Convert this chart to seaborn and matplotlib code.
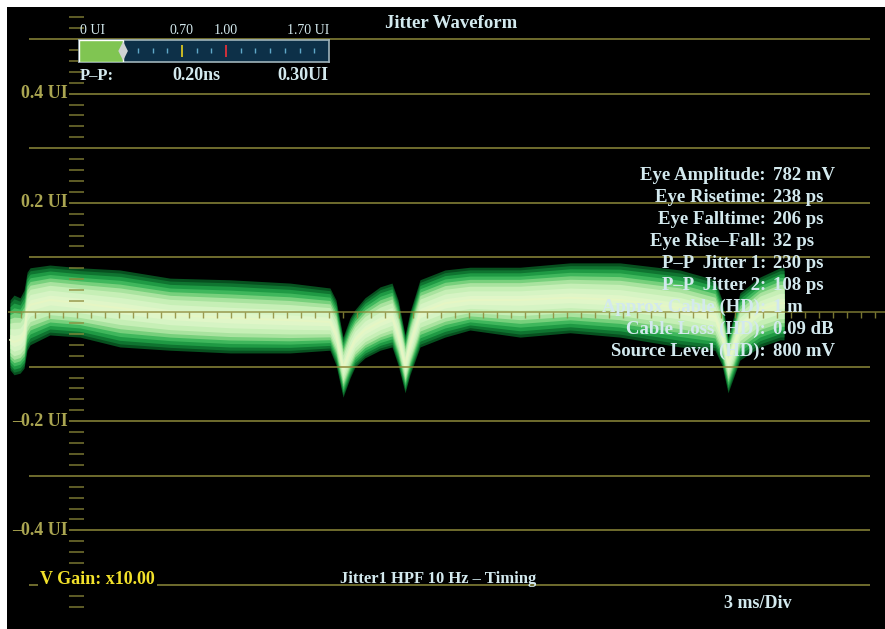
import numpy as np
import pandas as pd
import matplotlib
matplotlib.use("Agg")
import matplotlib.pyplot as plt
import seaborn as sns

# ---------------- data ----------------
time_ms = [0.13, 0.30, 0.56, 0.73, 0.86, 0.99, 1.84, 3.13, 4.84, 6.99, 9.56, 12.13,
           13.84, 14.10, 14.40, 14.70, 14.91, 15.34, 15.99, 16.50, 16.76, 17.06,
           17.27, 17.70, 18.77, 19.84, 21.99, 24.13, 26.27, 28.84, 30.34, 30.64,
           30.90, 31.41, 32.27, 33.13, 33.30]
wave_top = [0.022, 0.031, 0.026, 0.040, 0.073, 0.081, 0.086, 0.081, 0.077, 0.062, 0.059, 0.053,
            0.044, 0.022, -0.046, -0.011, 0.004, 0.026, 0.046, 0.053, 0.022, -0.042,
            0.000, 0.059, 0.077, 0.082, 0.082, 0.090, 0.090, 0.077, 0.059, 0.022,
            -0.046, 0.035, 0.064, 0.081, 0.081]
wave_core = [-0.051, -0.055, -0.051, -0.042, 0.004, 0.013, 0.022, 0.016, 0.007, -0.005, -0.011, -0.015,
             -0.018, -0.042, -0.103, -0.070, -0.051, -0.033, -0.018, -0.009, -0.042, -0.097,
             -0.060, -0.002, 0.016, 0.022, 0.022, 0.026, 0.022, 0.007, -0.009, -0.042,
             -0.093, -0.027, 0.004, 0.016, 0.016]
wave_bottom = [-0.106, -0.115, -0.112, -0.103, -0.070, -0.060, -0.042, -0.046, -0.064, -0.070, -0.075, -0.075,
               -0.070, -0.097, -0.156, -0.121, -0.101, -0.084, -0.070, -0.064, -0.097, -0.148,
               -0.115, -0.064, -0.046, -0.033, -0.046, -0.038, -0.046, -0.064, -0.070, -0.097,
               -0.148, -0.088, -0.064, -0.051, -0.051]

grid_ui = [0.5, 0.4, 0.3, 0.2, 0.1, -0.1, -0.2, -0.3, -0.4, -0.5]
label_ui = [0.4, 0.2, -0.2, -0.4]
label_text = ["0.4 UI", "0.2 UI", "\u20130.2 UI", "\u20130.4 UI"]

meas_labels = ["Eye Amplitude:", "Eye Risetime:", "Eye Falltime:", "Eye Rise\u2013Fall:",
               "P\u2013P  Jitter 1:", "P\u2013P  Jitter 2:", "Approx Cable (HD):",
               "Cable Loss (HD):", "Source Level (HD):"]
meas_values = ["782 mV", "238 ps", "206 ps", "32 ps", "230 ps", "108 ps", "1 m",
               "0.09 dB", "800 mV"]

meter_value_ui = 0.30
meter_max_ui = 1.70
meter_ticks = [0.1, 0.2, 0.3, 0.4, 0.5, 0.6, 0.8, 0.9, 1.1, 1.2, 1.3, 1.4, 1.5, 1.6]
meter_warn_ui = 0.70
meter_err_ui = 1.00
meter_tick_labels = ["0 UI", "0.70", "1.00", "1.70 UI"]
pp_ns = "0.20ns"
pp_ui = "0.30UI"

# ---------------- style ----------------
sns.set_theme(style="dark")
plt.rcParams['font.family'] = ['Liberation Serif', 'DejaVu Serif']

W, H = 885, 629
TXT = '#d3e9ee'
GRID = '#8e8a3a'
YLAB = '#aaa551'

fig = plt.figure(figsize=(W / 100, H / 100), dpi=100, facecolor='white')
ax = fig.add_axes([7 / W, 0, 878 / W, 622 / H])
ax.set_facecolor('black')
XMAX = 878 * 3 / 70
ax.set_xlim(0, XMAX)
ax.set_ylim((312 - 629) / 546, (312 - 7) / 546)
ax.set_xticks([])
ax.set_yticks([])
ax.grid(False)
for s in ax.spines.values():
    s.set_visible(False)


def px2ms(px):
    return (px - 7) * 3 / 70


df = pd.DataFrame({'t': time_ms, 'top': wave_top, 'core': wave_core, 'bot': wave_bottom})
t = df['t'].to_numpy()
c = df['core'].to_numpy()
up = df['top'].to_numpy()
lo = df['bot'].to_numpy()

layers = [(1.0, '#07501f'), (0.92, '#0f7430'), (0.83, '#1f9a44'), (0.73, '#3fb75c'),
          (0.63, '#77d07c'), (0.53, '#a9e39f'), (0.42, '#c6efb6'), (0.28, '#d6f4c4'),
          (0.14, '#e0f6c8')]
for f, col in layers:
    ax.fill_between(t, c + f * (lo - c), c + f * (up - c), color=col, lw=0, zorder=2)
sns.lineplot(data=df, x='t', y='core', ax=ax, color='#e6f6c4', lw=1.5, zorder=3,
             legend=False)
ax.set_xlabel('')
ax.set_ylabel('')

# grid
ax.hlines(grid_ui, px2ms(29), px2ms(870), color=GRID, lw=1.1, zorder=4)
ax.hlines([0], px2ms(8), XMAX, color=GRID, lw=1.1, zorder=4, alpha=0.85)
minor = [round(v, 2) for v in np.arange(-0.54, 0.5401, 0.02)]
minor = [v for v in minor if abs(round(v * 10) - v * 10) > 1e-6]
ax.hlines(minor, px2ms(69), px2ms(84), color=GRID, lw=1.1, zorder=4, alpha=0.85)
xt = np.arange(0.6, XMAX, 0.6)
ax.vlines(xt, -0.011, 0, color=GRID, lw=1.0, zorder=4, alpha=0.85)

for v, s in zip(label_ui, label_text):
    ax.text(px2ms(68), v, s, ha='right', va='center', color=YLAB, fontsize=13,
            fontweight='bold', zorder=6,
            bbox=dict(facecolor='black', edgecolor='none', pad=1.0))


def ftext(x, y, s, **kw):
    fig.text(x / W, 1 - y / H, s, **kw)


ftext(451, 23, "Jitter Waveform", ha='center', va='center', color=TXT, fontsize=13.5,
      fontweight='bold')

for i, (lab, val) in enumerate(zip(meas_labels, meas_values)):
    y = 176 + i * 21.9
    ftext(766, y, lab, ha='right', va='center', color=TXT, fontsize=13.5, fontweight='bold',
          zorder=7)
    ftext(773, y, val, ha='left', va='center', color=TXT, fontsize=13.5, fontweight='bold',
          zorder=7)

ftext(40, 580, "V Gain: x10.00", ha='left', va='center', color='#f2e12a', fontsize=13,
      fontweight='bold', bbox=dict(facecolor='black', edgecolor='none', pad=1.5))
ftext(340, 579, "Jitter1 HPF 10 Hz \u2013 Timing", ha='left', va='center', color=TXT,
      fontsize=12, fontweight='bold')
ftext(792, 603, "3 ms/Div", ha='right', va='center', color=TXT, fontsize=13,
      fontweight='bold')

# ---------------- meter ----------------
mx = fig.add_axes([79 / W, 1 - 62 / H, 250 / W, 22 / H])
mx.set_facecolor('#0d3048')
mx.set_xlim(0, meter_max_ui)
mx.set_ylim(0, 1)
mx.set_xticks([])
mx.set_yticks([])
mx.grid(False)
for s in mx.spines.values():
    s.set_color('#9fb3bb')
    s.set_linewidth(1.2)
mx.vlines(meter_ticks, 0.40, 0.64, color='#5fa8c8', lw=1.0, zorder=2)
mx.vlines([meter_warn_ui], 0.22, 0.78, color='#d8c522', lw=1.3, zorder=2)
mx.vlines([meter_err_ui], 0.22, 0.78, color='#e0303a', lw=1.3, zorder=2)
mx.barh([0.5], [meter_value_ui], height=1.0, left=0, color='#80c552', zorder=3)
diamond = [(0, 1), (0.5, 0), (0, -1), (-0.5, 0), (0, 1)]
mx.scatter([meter_value_ui], [0.5], marker=diamond, s=190, color='#cfd3d3',
           edgecolors='none', zorder=4, clip_on=False)

ftext(80, 31, meter_tick_labels[0], ha='left', va='center', color=TXT, fontsize=10)
ftext(182, 31, meter_tick_labels[1], ha='center', va='center', color=TXT, fontsize=10)
ftext(226, 31, meter_tick_labels[2], ha='center', va='center', color=TXT, fontsize=10)
ftext(329, 31, meter_tick_labels[3], ha='right', va='center', color=TXT, fontsize=10)
ftext(80, 76, "P\u2013P:", ha='left', va='center', color=TXT, fontsize=12, fontweight='bold')
ftext(196, 76, pp_ns, ha='center', va='center', color=TXT, fontsize=13, fontweight='bold')
ftext(329, 76, pp_ui, ha='right', va='center', color=TXT, fontsize=13, fontweight='bold')

fig.savefig('out.png', dpi=100, facecolor='white')
